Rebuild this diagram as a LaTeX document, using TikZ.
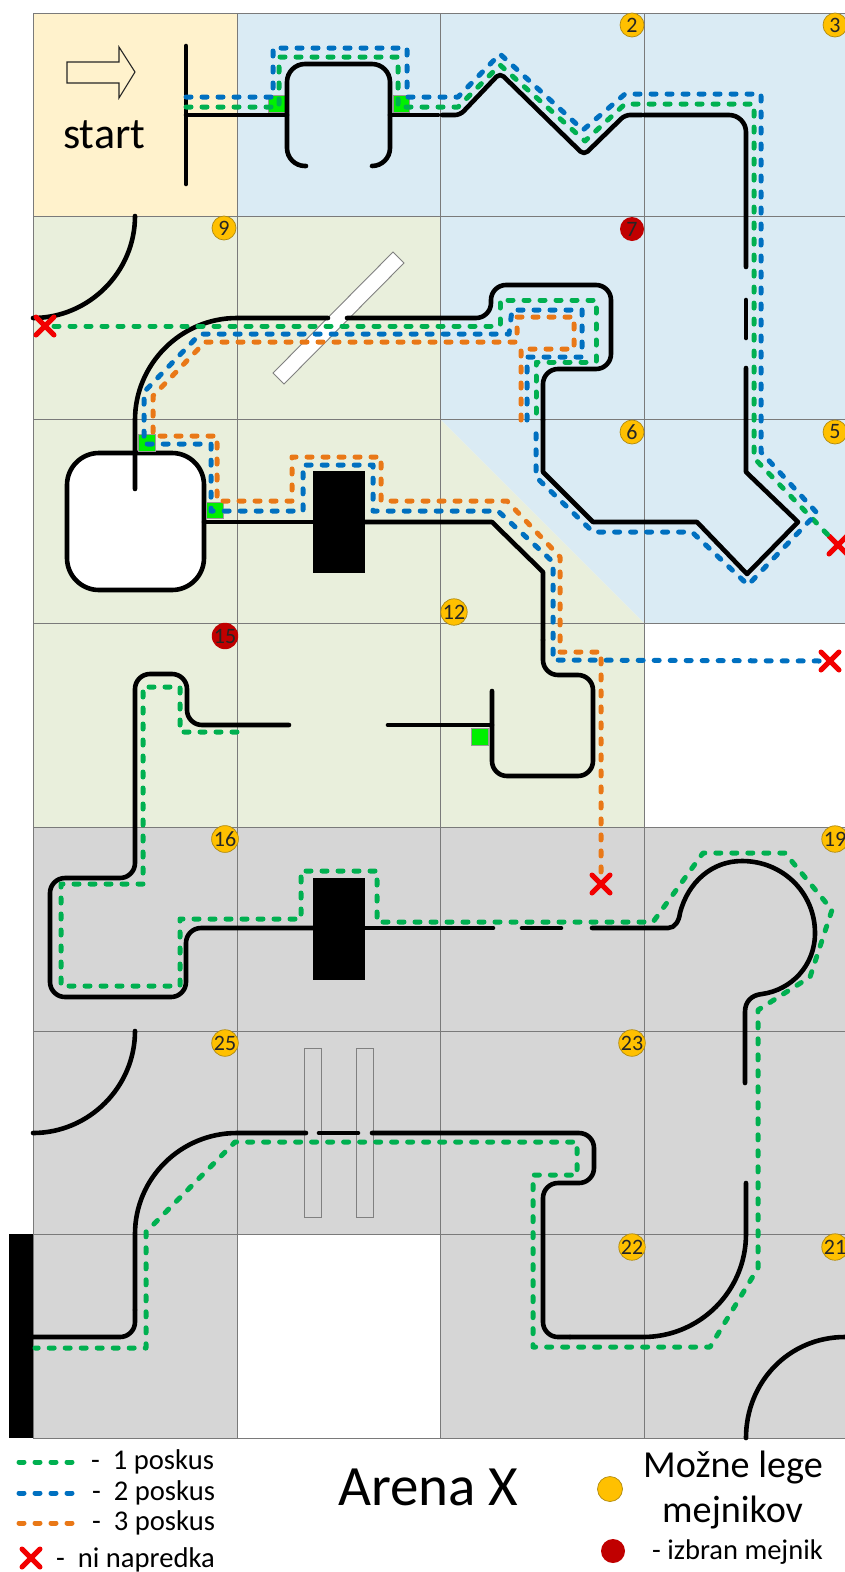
\documentclass[tikz,border=0pt]{standalone}
\usepackage{fontspec}
\setmainfont{Carlito}
\usetikzlibrary{shapes.misc}

\definecolor{zonestart}{HTML}{FFF2CC}
\definecolor{zoneblue}{HTML}{DAEBF4}
\definecolor{zonegreen}{HTML}{E9EFDC}
\definecolor{zonegrey}{HTML}{D6D6D6}
\definecolor{tryone}{HTML}{00B050}
\definecolor{trytwo}{HTML}{0070C0}
\definecolor{trythree}{HTML}{E97817}
\definecolor{legefill}{HTML}{FFC000}
\definecolor{legeline}{HTML}{B08A10}
\definecolor{izbranfill}{HTML}{C00000}
\definecolor{patchfill}{HTML}{00F000}

\begin{document}
\begin{tikzpicture}[
  x=1pt,y=-1pt,
  gridline/.style={draw=black!52, line width=1pt},
  track/.style={draw=black, line width=4.6pt, line cap=round, line join=round},
  route/.style={line width=5pt, dash pattern=on 5pt off 11pt, line cap=round, line join=round},
  attempt1/.style={route, draw=tryone},
  attempt2/.style={route, draw=trytwo},
  attempt3/.style={route, draw=trythree},
  marker/.style={circle, minimum size=24pt, inner sep=0pt, font=\fontsize{22}{22}\selectfont, text=black!85},
  lege/.style={marker, fill=legefill, draw=legeline, line width=0.7pt},
  izbran/.style={marker, fill=izbranfill},
  cross/.style={cross out, draw=red!95!black, line width=5pt, line cap=round, minimum size=18pt, inner sep=0pt, outer sep=0pt},
  patch/.style={fill=patchfill, draw=black!40, line width=0.4pt},
  gate/.style={draw=black!50, line width=0.9pt},
  legend/.style={anchor=base west, inner sep=0pt, font=\fontsize{28.6}{34}\selectfont},
  title/.style={anchor=base west, inner sep=0pt, font=\fontsize{38.2}{44}\selectfont}
]
\clip (0,0) rectangle (845,1572);

% zones
\fill[zonestart] (33,13) rectangle (237,216);
\fill[zoneblue] (237,13) -- (845,13) -- (845,623) -- (644,623) -- (440,419) -- (440,216) -- (237,216) -- cycle;
\fill[zonegreen] (33,216) -- (440,216) -- (440,419) -- (644,623) -- (644,827) -- (33,827) -- cycle;
\fill[zonegrey] (33,827) -- (845,827) -- (845,1438) -- (440,1438) -- (440,1234) -- (237,1234) -- (237,1438) -- (33,1438) -- cycle;
\fill[black] (9,1234) rectangle (33,1438);

% grid
\draw[gridline] (33,13) -- (845,13);
\draw[gridline] (33,216) -- (845,216);
\draw[gridline] (33,419) -- (845,419);
\draw[gridline] (33,623) -- (845,623);
\draw[gridline] (33,827) -- (845,827);
\draw[gridline] (33,1031) -- (845,1031);
\draw[gridline] (33,1234) -- (845,1234);
\draw[gridline] (33,1438) -- (845,1438);
\draw[gridline] (33,13) -- (33,1438);
\draw[gridline] (237,13) -- (237,1438);
\draw[gridline] (440,13) -- (440,1438);
\draw[gridline] (644,13) -- (644,1438);

% obstacles
\draw[gate, fill=white] (393,252) -- (404,263) -- (284,384) -- (273,373) -- cycle;
\draw[gate] (304,1048) rectangle (321,1217);
\draw[gate] (356,1048) rectangle (373,1217);
\fill[black] (313,471) rectangle (365,573);
\fill[black] (313,878) rectangle (365,980);
\draw[track, fill=white, rounded corners=32pt] (67,453) rectangle (204,590);

% green patches
\draw[patch] (268,95) rectangle (285,112);
\draw[patch] (393,95) rectangle (409,112);
\draw[patch] (138,434) rectangle (155,451);
\draw[patch] (206,502) rectangle (223,518);
\draw[patch] (471,728) rectangle (488,745);

% track
\draw[track] (186,46) -- (186,184);
\draw[track] (186,115) -- (287,115);
\draw[track, rounded corners=18pt] (306,166) -- (287,166) -- (287,64) -- (390,64) -- (390,166) -- (372,166);
\draw[track] (390,115) -- (438,115);
\draw[track, rounded corners=5pt] (442,115) -- (460,115) -- (500,73) -- (584,155) -- (625,115) -- (642,115);
\draw[track, rounded corners=17pt] (644,115) -- (746,115) -- (746,267);
\draw[track] (746,300) -- (746,338);
\draw[track] (746,368) -- (746,472) -- (798,522) -- (747,574) -- (697,522) -- (593,522) -- (543,472) -- (543,420);
\draw[track, rounded corners=15pt] (543,420) -- (543,369) -- (611,369) -- (611,285) -- (491,285) -- (491,318) -- (347,318);
\draw[track] (328,318) -- (237,318) .. controls (181,318) and (135,364) .. (135,420) -- (135,489);
\draw[track] (204,522) -- (313,522);
\draw[track] (365,522) -- (492,522) -- (543,572) -- (543,640);
\draw[track, rounded corners=15pt] (543,640) -- (543,675) -- (593,675) -- (593,776) -- (492,776) -- (492,691);
\draw[track] (388,725) -- (492,725);
\draw[track, rounded corners=15pt] (289,725) -- (187,725) -- (187,674) -- (135,674) -- (135,878) -- (50,878) -- (50,997) -- (186,997) -- (186,928) -- (313,928);
\draw[track] (365,928) -- (493,928);
\draw[track] (522,928) -- (561,928);
\draw[track] (592,928) -- (668,928) .. controls (675,928) and (679,921) .. (680,913)
  .. controls (688,882) and (712,861) .. (742,861) .. controls (783,861) and (815,893) .. (815,933)
  .. controls (815,966) and (791,990) .. (762,994) .. controls (752,995) and (745,1001) .. (745,1012) -- (745,1083);
\draw[track] (746,1183) -- (746,1234) .. controls (746,1291) and (700,1337) .. (643,1337) -- (570,1337);
\draw[track, rounded corners=15pt] (570,1337) -- (543,1337) -- (543,1183) -- (594,1183) -- (594,1133) -- (372,1133);
\draw[track] (358,1133) -- (319,1133);
\draw[track] (306,1133) -- (237,1133) .. controls (181,1133) and (135,1178) .. (135,1234) -- (135,1310);
\draw[track, rounded corners=15pt] (135,1310) -- (135,1337) -- (33,1337);
\draw[track] (135,216) .. controls (135,272) and (89,318) .. (33,318);
\draw[track] (135,1031) .. controls (135,1087) and (89,1133) .. (33,1133);
\draw[track] (746,1438) .. controls (746,1382) and (789,1337) .. (845,1337);

% no progress
\node[cross] (xleft) at (45,326) {};
\node[cross] (xright) at (838,545) {};
\node[cross] (xblue) at (830,661) {};
\node[cross] (xorange) at (601,884) {};

% first attempt
\draw[attempt1] (186,107) -- (279,107) -- (279,57) -- (398,57) -- (398,107) -- (458,107) -- (500,65) -- (585,141) -- (625,104) -- (754,104) -- (754,458) -- (xright.north west);
\draw[attempt1] (xleft.east) -- (500,326) -- (500,300) -- (596,300) -- (596,362) -- (536,362) -- (536,420);
\draw[attempt1] (237,732) -- (180,732) -- (180,687) -- (143,687) -- (143,884) -- (61,884) -- (61,986) -- (180,986) -- (180,919) -- (301,919) -- (301,871) -- (377,871) -- (377,922) -- (653,922) -- (703,853) -- (785,853) -- (832,910) -- (810,977) -- (758,1010) -- (758,1268) -- (710,1347) -- (533,1347) -- (533,1175) -- (577,1175) -- (577,1142) -- (235,1142) -- (146,1232) -- (146,1348) -- (35,1348);

% second attempt
\draw[attempt2] (186,97) -- (273,97) -- (273,48) -- (407,48) -- (407,97) -- (446,97) -- (458,97) -- (500,54) -- (583,130) -- (625,94) -- (761,94) -- (761,452) -- (817,513) -- (748,585) -- (692,532) -- (593,532) -- (536,477) -- (536,424);
\draw[attempt2] (527,420) -- (527,357) -- (582,357) -- (582,310) -- (512,310) -- (509,334) -- (200,334) -- (144,392) -- (144,444) -- (211,444) -- (211,511) -- (303,511) -- (303,465) -- (373,465) -- (373,511) -- (498,511) -- (553,562) -- (553,660) -- (xblue.west);

% third attempt
\draw[attempt3] (521,420) -- (521,349) -- (574,349) -- (574,317) -- (517,317) -- (517,342) -- (205,342) -- (153,396) -- (153,436) -- (217,436) -- (217,501) -- (292,501) -- (292,457) -- (381,457) -- (381,501) -- (507,501) -- (560,557) -- (560,652) -- (601,652) -- (xorange.north);

% landmarks
\node[lege] (m2) at (632,25) {2};
\node[lege] (m3) at (835,25) {3};
\node[lege] (m9) at (224,228) {9};
\node[izbran] (m7) at (632,229) {7};
\node[lege] (m6) at (632,432) {6};
\node[lege] (m5) at (835,432) {5};
\node[lege] (m12) at (454,612) {12};
\node[izbran] (m15) at (225,636) {15};
\node[lege] (m16) at (225,839) {16};
\node[lege] (m19) at (835,839) {19};
\node[lege] (m25) at (225,1043) {25};
\node[lege] (m23) at (632,1043) {23};
\node[lege] (m22) at (632,1247) {22};
\node[lege] (m21) at (835,1247) {21};

% start cell
\draw[line width=1.1pt, draw=black!85] (67,62) -- (119,62) -- (119,47) -- (135,72) -- (119,98) -- (119,83) -- (67,83) -- cycle;
\node[anchor=base west, inner sep=0pt, font=\fontsize{44}{50}\selectfont] (start) at (63,148) {start};

% legend
\draw[attempt1] (19,1462) -- (74,1462);
\draw[attempt2] (19,1493) -- (74,1493);
\draw[attempt3] (19,1523) -- (74,1523);
\node[legend] (one) at (91,1469) {-~~1 poskus};
\node[legend] (two) at (92,1500) {-~~2 poskus};
\node[legend] (three) at (92,1530) {-~~3 poskus};
\node[cross] (xlegend) at (31,1558) {};
\node[legend] (none) at (56,1567) {-~~ni napredka};
\node[anchor=base west, inner sep=0pt, font=\fontsize{57}{64}\selectfont] (arena) at (338,1505) {Arena X};
\node[lege, minimum size=25pt] (keyorange) at (610,1489) {};
\node[izbran] (keyred) at (613,1551) {};
\node[title] (possible) at (643,1477) {Možne lege};
\node[title] (landmarks) at (662,1522) {mejnikov};
\node[anchor=base west, inner sep=0pt, font=\fontsize{28.5}{34}\selectfont] (chosen) at (652,1559) {- izbran mejnik};
\end{tikzpicture}
\end{document}
